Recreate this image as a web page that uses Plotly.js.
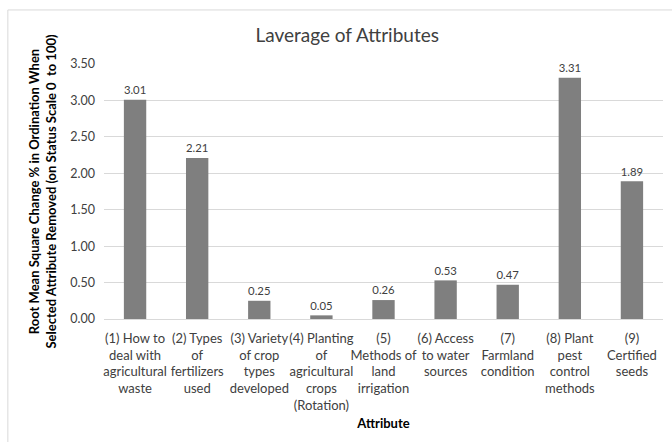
<!DOCTYPE html>
<html>
<head>
<meta charset="utf-8">
<script src="https://cdn.plot.ly/plotly-3.0.1.min.js"></script>
<style>html,body{margin:0;padding:0;background:#fff;}#chart{width:672px;height:442px;}</style>
</head>
<body>
<div id="chart"></div>
<script>
const categories = [
  "(1) How to<br>deal with<br>agricultural<br>waste",
  "(2) Types<br>of<br>fertilizers<br>used",
  "(3) Variety<br>of crop<br>types<br>developed",
  "(4) Planting<br>of<br>agricultural<br>crops<br>(Rotation)",
  "(5)<br>Methods of<br>land<br>irrigation",
  "(6) Access<br>to water<br>sources",
  "(7)<br>Farmland<br>condition",
  "(8) Plant<br>pest<br>control<br>methods",
  "(9)<br>Certified<br>seeds"
];
const values = [3.01, 2.21, 0.25, 0.05, 0.26, 0.53, 0.47, 3.31, 1.89];
const yTickVals = [0, 0.5, 1, 1.5, 2, 2.5, 3, 3.5];
const yTickText = ["0.00","0.50","1.00","1.50","2.00","2.50","3.00","3.50"];

const FONT = "Lato, 'Open Sans', sans-serif";

Plotly.newPlot('chart', [{
  type: 'bar',
  x: categories,
  y: values,
  marker: {color: '#7f7f7f'},
  width: 0.36,
  text: values.map(v => v.toFixed(2)),
  textposition: 'outside',
  cliponaxis: false,
  textfont: {family: FONT, size: 12.5, color: '#404040'},
  hoverinfo: 'none'
}], {
  width: 672, height: 442,
  margin: {l: 104, r: 9, t: 64, b: 123},
  paper_bgcolor: '#fff', plot_bgcolor: '#fff',
  font: {family: FONT, size: 12, color: '#595959'},
  title: {text: 'Laverage of Attributes', xref: 'paper', x: 0.435, xanchor: 'center', y: 0.921, yanchor: 'middle',
          font: {family: FONT, size: 19, color: '#404040'}},
  showlegend: false,
  xaxis: {
    tickangle: 0,
    automargin: false,
    tickfont: {family: FONT, size: 13, color: '#404040'},
    showline: true, linecolor: '#d9d9d9', linewidth: 1,
    ticks: '', showgrid: false,
    ticklabelstandoff: 7,
    title: {text: '<b>Attribute</b>', font: {family: FONT, size: 13, color: '#000'}, standoff: 6}
  },
  yaxis: {
    range: [0, 3.5],
    automargin: false,
    tickvals: yTickVals, ticktext: yTickText,
    tickfont: {family: FONT, size: 12.5, color: '#404040'},
    showgrid: true, gridcolor: '#d9d9d9', gridwidth: 1,
    zeroline: false, ticks: '',
    ticklabelstandoff: 8,
    title: {text: '<b>Root Mean Square Change % in Ordination When<br>Selected Attribute Removed (on Status Scale 0  to 100)</b>',
            font: {family: FONT, size: 13, color: '#000'}, standoff: 10}
  },
  shapes: [{
    type: 'rect', xref: 'paper', yref: 'paper',
    x0: -0.172, x1: 1.2, y0: -1.0, y1: 1.212,
    line: {color: '#d9d9d9', width: 1}, fillcolor: 'rgba(0,0,0,0)', layer: 'below'
  }]
}, {displayModeBar: false, staticPlot: true});
</script>
</body>
</html>
